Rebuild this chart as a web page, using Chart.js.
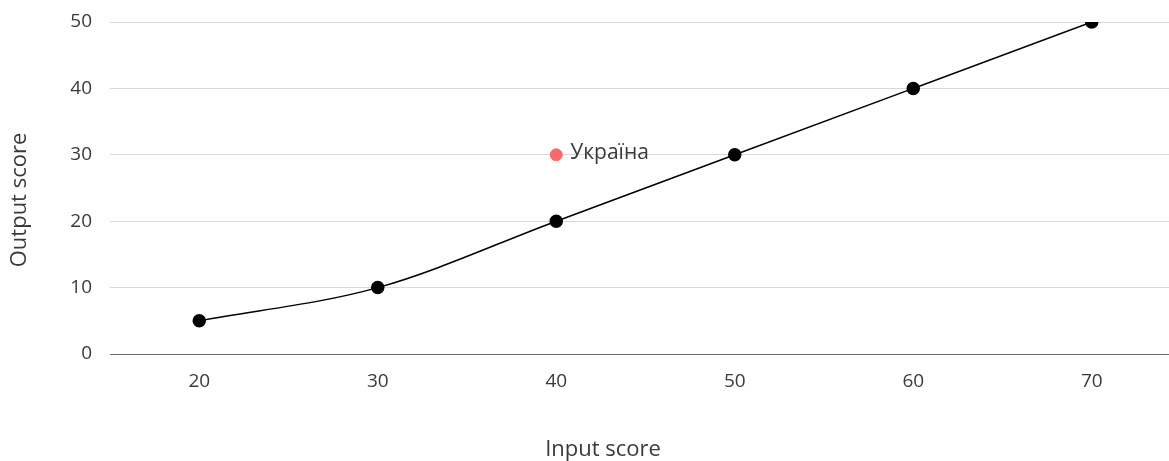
<!DOCTYPE html>
<html>
<head>
<meta charset="utf-8">
<script src="https://cdn.jsdelivr.net/npm/chart.js@4"></script>
<style>
  html, body { margin: 0; padding: 0; background: #fff; overflow: hidden; }
  #wrap { width: 1169px; height: 461px; overflow: hidden; }
  #box { width: 1206px; height: 461px; }
</style>
</head>
<body>
<div id="wrap"><div id="box"><canvas id="chart"></canvas></div></div>
<script>
// Curve values
const inputScores = [20, 30, 40, 50, 60, 70];
const outputScores = [5, 10, 20, 30, 40, 50];

// Highlighted country
const countryName = 'Україна';
const countryInput = [40];
const countryOutput = [30];

// Tick labels
const xTicks = [20, 30, 40, 50, 60, 70];
const yTicks = [0, 10, 20, 30, 40, 50];

const textColor = '#3a3a3a';
const fontFamily = '"Open Sans", sans-serif';

// Label next to the highlighted point and the axis titles
const labelsPlugin = {
    id: 'labels',
    afterDatasetsDraw(chart) {
        const ctx = chart.ctx;
        ctx.save();
        ctx.fillStyle = textColor;
        const pt = chart.getDatasetMeta(1).data[0];
        ctx.font = '21px ' + fontFamily;
        ctx.textAlign = 'left';
        ctx.textBaseline = 'middle';
        ctx.fillText(countryName, pt.x + 14, pt.y - 2);

        ctx.font = '22px ' + fontFamily;
        ctx.textAlign = 'center';
        ctx.fillText('Input score', 603, 450);
        ctx.translate(20, 200);
        ctx.rotate(-Math.PI / 2);
        ctx.fillText('Output score', 0, 0);
        ctx.restore();
    }
};

new Chart(document.getElementById('chart'), {
    type: 'scatter',
    data: {
        datasets: [{
            label: 'curve',
            data: inputScores.map((x, i) => ({ x: x, y: outputScores[i] })),
            showLine: true,
            borderColor: '#000000',
            borderWidth: 1.5,
            backgroundColor: '#000000',
            pointRadius: 6,
            pointHoverRadius: 6,
            cubicInterpolationMode: 'monotone'
        }, {
            label: countryName,
            data: countryInput.map((x, i) => ({ x: x, y: countryOutput[i] })),
            backgroundColor: '#f86a6a',
            borderColor: '#f86a6a',
            pointRadius: 6,
            pointHoverRadius: 6
        }]
    },
    options: {
        responsive: true,
        maintainAspectRatio: false,
        animation: false,
        layout: { padding: { top: 22, right: 25, left: 0, bottom: 0 } },
        plugins: {
            legend: { display: false },
            tooltip: { enabled: false }
        },
        scales: {
            x: {
                type: 'linear',
                min: 15,
                max: 75,
                afterBuildTicks: scale => { scale.ticks = xTicks.map(v => ({ value: v })); },
                afterFit: scale => { scale.height = 107; },
                grid: { display: false, drawTicks: false },
                border: { display: true, color: '#666666', width: 1 },
                ticks: {
                    color: textColor,
                    padding: 16,
                    font: { size: 19, family: fontFamily }
                }
            },
            y: {
                min: 0,
                max: 50,
                afterBuildTicks: scale => { scale.ticks = yTicks.map(v => ({ value: v })); },
                afterFit: scale => { scale.width = 110; },
                grid: { color: '#d9d9d9', drawTicks: true, tickLength: 18, tickColor: 'rgba(0,0,0,0)', lineWidth: 1 },
                border: { display: false },
                ticks: {
                    color: textColor,
                    padding: 0,
                    font: { size: 19, family: fontFamily }
                }
            }
        }
    },
    plugins: [labelsPlugin]
});
</script>
</body>
</html>
